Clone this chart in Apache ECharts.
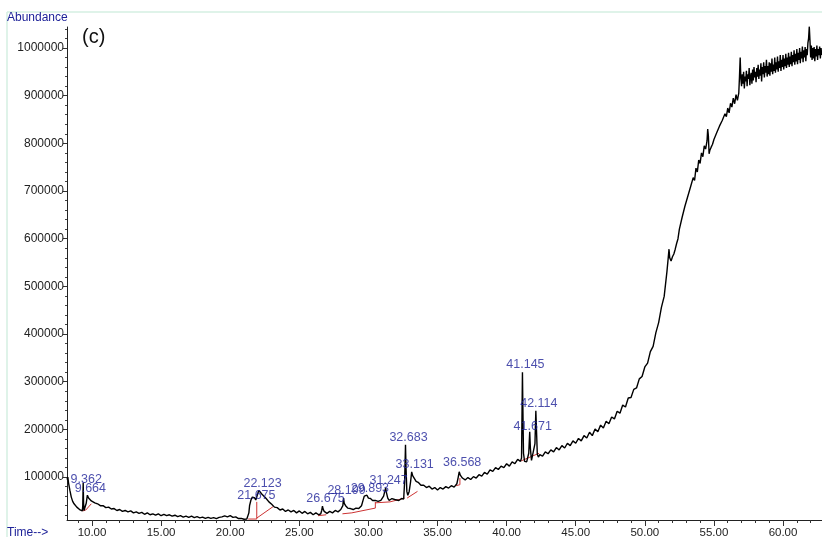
<!DOCTYPE html>
<html>
<head>
<meta charset="utf-8">
<script src="https://cdn.jsdelivr.net/npm/echarts@6/dist/echarts.min.js"></script>
<style>
  html, body { margin: 0; padding: 0; background: #fff; }
  #canvasC { width: 822px; height: 537px; }
</style>
</head>
<body>
<div id="canvasC"></div>
<script>
// chromatogram (c): [time (min), abundance / 1000]
var trace = [
  [8.19,95],[8.25,100],[8.3,88],[8.4,72],[8.5,58],[8.6,49],[8.7,44],[8.8,40],[8.9,37],[9.0,34],
  [9.1,32],[9.2,30],[9.3,29],[9.33,40],[9.362,88],[9.39,45],[9.42,30],[9.5,29],[9.58,45],[9.664,62],
  [9.75,56],[9.85,53],[9.95,50],
  [10.0,50],[10.2,46],[10.4,44],[10.6,40],[10.8,40],[11.0,36],[11.2,37],[11.4,33],[11.6,34],[11.8,30],
  [12.0,32],[12.2,28],[12.4,30],[12.6,27],[12.8,29],[13.0,25],[13.2,27],[13.4,24],[13.6,26],[13.8,22],
  [14.0,25],[14.2,21],[14.4,23],[14.6,20],[14.8,23],[15.0,19],[15.2,22],[15.4,19],[15.6,21],[15.8,18],
  [16.0,20],[16.2,17],[16.4,19],[16.6,16],[16.8,18],[17.0,15.5],[17.2,18],[17.4,15],[17.6,17],[17.8,14.5],
  [18.0,16],[18.2,13.5],[18.4,15.5],[18.6,13.5],[18.8,15],[19.0,13],[19.2,15.5],[19.4,16.5],[19.6,18.5],[19.8,16.5],
  [20.0,19],[20.2,15.5],[20.4,16.5],[20.6,13],[20.8,13.5],[21.0,11.5],[21.2,12],[21.3,11.5],
  [21.35,25],[21.4,40],[21.5,52],[21.6,58],[21.675,60],[21.75,57],[21.85,52],[21.92,54],[22.0,66],[22.07,72],
  [22.123,74],[22.2,70],[22.3,64],[22.4,60],[22.6,55],[22.8,48],[23.0,43],[23.2,37],[23.4,36],[23.6,31],
  [23.8,33],[24.0,28],[24.2,31],[24.4,27],[24.6,30],[24.8,25],[25.0,29],[25.2,24],[25.4,28],[25.6,23],
  [25.8,26],[26.0,21],[26.2,25],[26.4,21],[26.55,23],[26.62,30],[26.675,39],[26.72,33],[26.8,28],[26.9,27],
  [27.0,24],[27.2,28],[27.4,25],[27.6,30],[27.8,27],[28.0,32],[28.1,29],[28.15,40],[28.199,56],[28.25,45],
  [28.35,40],[28.5,35],[28.7,34],[28.9,32],[29.1,35],[29.3,34],[29.5,40],[29.6,50],[29.7,60],[29.8,60],
  [29.893,62],[30.0,56],[30.15,55],[30.3,51],[30.5,51],[30.7,49],[30.9,51],[31.0,52],[31.1,60],[31.2,72],
  [31.247,77],[31.3,68],[31.4,56],[31.5,51],[31.6,52],[31.7,55],[31.8,58],[31.9,53],[32.0,52],[32.2,51],
  [32.4,55],[32.55,54],[32.62,90],[32.683,168],[32.72,120],[32.78,70],[32.85,62],[32.95,70],[33.05,90],[33.131,111],
  [33.2,103],[33.3,99],[33.45,91],[33.6,89],[33.8,83],[34.0,83],[34.2,78],[34.4,81],[34.6,75],[34.8,78],
  [35.0,73],[35.2,78],[35.4,75],[35.6,80],[35.8,77],[36.0,82],[36.2,79],[36.4,86],[36.5,100],[36.568,111],
  [36.65,104],[36.8,98],[37.0,94],[37.2,99],[37.4,95],[37.6,101],[37.8,98],[38.0,105],[38.2,102],[38.4,110],
  [38.6,106],[38.8,115],[39.0,112],[39.2,120],[39.4,116],[39.6,123],[39.8,120],[40.0,128],[40.2,123],[40.4,132],
  [40.6,128],[40.8,137],[41.0,133],[41.08,140],[41.12,250],[41.145,320],[41.17,260],[41.22,150],[41.3,133],[41.45,132],
  [41.6,150],[41.671,195],[41.72,160],[41.8,135],[41.9,133],[42.05,170],[42.114,239],[42.16,200],[42.22,148],[42.3,142],
  [42.4,147],[42.6,144],[42.8,153],[43.0,149],[43.2,157],[43.4,153],[43.6,162],[43.8,157],[44.0,166],[44.2,161],
  [44.4,171],[44.6,166],[44.8,176],[45.0,171],[45.2,181],[45.4,176],[45.6,187],[45.8,182],[46.0,194],[46.2,187],
  [46.4,201],[46.6,195],[46.8,209],[47.0,203],[47.2,217],[47.4,212],[47.6,226],[47.8,222],[48.0,238],[48.2,234],
  [48.4,251],[48.6,247],[48.8,266],[49.0,267],[49.2,284],[49.4,287],[49.6,306],[49.8,311],[50.0,331],[50.2,339],
  [50.4,363],[50.6,374],[50.8,403],[51.0,424],[51.2,456],[51.4,479],[51.6,531],[51.7,562],[51.75,578],[51.8,560],
  [51.9,553],[52.0,562],[52.1,568],[52.2,578],[52.3,590],[52.4,600],[52.5,620],[52.6,622],[52.7,645],[52.8,648],
  [52.9,668],[53.0,668],[53.1,688],[53.2,688],[53.3,708],[53.4,706],[53.5,728],[53.6,722],[53.7,748],[53.8,740],
  [53.9,765],[54.0,758],[54.1,780],[54.2,772],[54.3,795],[54.4,788],[54.5,805],[54.55,830],[54.6,815],[54.65,778],
  [54.7,785],[54.8,792],[54.9,798],[55.0,808],[55.1,810],[55.2,822],[55.3,824],[55.4,836],[55.5,836],[55.6,848],
  [55.7,846],[55.8,862],[55.9,856],[56.0,874],[56.1,864],[56.2,884],[56.3,876],[56.4,895],[56.5,883],[56.6,902],
  [56.7,890],[56.8,906],[56.85,940],[56.9,980],[56.95,935],
  [57.0,920],[57.05,945],[57.1,925],[57.15,950],[57.2,915],[57.25,940],[57.3,930],[57.35,952],[57.4,920],[57.45,945],
  [57.5,935],[57.55,958],[57.6,922],[57.65,940],[57.7,948],[57.75,925],[57.8,955],[57.85,932],[57.9,960],[57.95,938],
  [58.0,950],[58.05,928],[58.1,958],[58.15,940],[58.2,965],[58.25,935],[58.3,955],[58.35,942],[58.4,968],[58.45,930],
  [58.5,960],[58.55,945],[58.6,970],[58.65,938],[58.7,962],[58.75,948],[58.8,975],[58.85,940],[58.9,962],[58.95,945],
  [59.0,970],[59.05,942],[59.1,968],[59.15,950],[59.2,978],[59.25,945],[59.3,965],[59.35,952],[59.4,980],[59.45,948],
  [59.5,970],[59.55,955],[59.6,982],[59.65,950],[59.7,972],[59.75,958],[59.8,985],[59.85,952],[59.9,975],[59.95,960],
  [60.0,985],[60.05,955],[60.1,978],[60.15,962],[60.2,988],[60.25,958],[60.3,980],[60.35,965],[60.4,990],[60.45,960],
  [60.5,982],[60.55,966],[60.6,992],[60.65,962],[60.7,985],[60.75,970],[60.8,995],[60.85,965],[60.9,988],[60.95,972],
  [61.0,998],[61.05,966],[61.1,990],[61.15,975],[61.2,1000],[61.25,968],[61.3,992],[61.35,978],[61.4,1003],[61.45,970],
  [61.5,995],[61.55,980],[61.6,1002],[61.65,972],[61.7,998],[61.75,985],[61.8,1010],[61.85,1020],[61.9,1045],[61.95,1015],
  [62.0,980],[62.05,1005],[62.1,975],[62.15,1000],[62.2,978],[62.25,1002],[62.3,972],[62.35,998],[62.4,982],[62.45,1005],
  [62.5,975],[62.55,998],[62.6,985],[62.65,1003],[62.7,978],[62.75,1000],[62.8,985]
];

// peak names, and where the name text sits (abundance / 1000 at label centre)
var peakNames = ['9.362','9.664','21.675','22.123','26.675','28.199','29.893','31.247','32.683','33.131','36.568','41.145','41.671','42.114'];
var peakLabelHeights = [94, 77, 62, 87, 56, 71, 77, 92, 182, 127, 130, 337, 207, 255];

// integration baselines: [t1, v1, t2, v2] (abundance / 1000)
var baselineSegments = [
  [9.33,29,9.55,31],[9.55,31,9.95,44],
  [21.3,12,21.92,12],[21.92,12,21.92,48],[21.92,14,23.1,38],
  [26.35,19,26.95,21],
  [28.12,23,28.8,25],
  [28.8,25,30.5,35],[30.5,35,30.5,48],
  [30.5,46,31.56,48],
  [31.56,48,32.62,56],
  [32.8,56,33.55,70],
  [36.35,82,36.62,84],[36.62,84,36.62,98],
  [41.05,134,42.35,150]
];

var xTickLabels = [10, 15, 20, 25, 30, 35, 40, 45, 50, 55, 60];
var xMinorTicks = [9,10,11,12,13,14,15,16,17,18,19,20,21,22,23,24,25,26,27,28,29,30,31,32,33,34,35,36,37,38,39,40,41,42,43,44,45,46,47,48,49,50,51,52,53,54,55,56,57,58,59,60,61,62];
var yTickLabels = [100000, 200000, 300000, 400000, 500000, 600000, 700000, 800000, 900000, 1000000];
var yMinorTicks = [20000,40000,60000,80000,100000,120000,140000,160000,180000,200000,220000,240000,260000,280000,300000,320000,340000,360000,380000,400000,420000,440000,460000,480000,500000,520000,540000,560000,580000,600000,620000,640000,660000,680000,700000,720000,740000,760000,780000,800000,820000,840000,860000,880000,900000,920000,940000,960000,980000,1000000,1020000,1040000];

var navy = '#1f2399';
var font = 'Liberation Sans, Arial, sans-serif';

var lineData = trace.map(function(p){ return [p[0], p[1] * 1000]; });
var labelData = peakNames.map(function(n, i){ return [parseFloat(n), peakLabelHeights[i] * 1000, n]; });
var baseData = [];
baselineSegments.forEach(function(s){
  baseData.push([s[0], s[1] * 1000]);
  baseData.push([s[2], s[3] * 1000]);
  baseData.push([null, null]);
});

var xMin = 8.19, xMax = 62.82, yMin = 10000, yMax = 1044000;

var chromOption = {
  animation: false,
  backgroundColor: '#fff',
  grid: { left: 67, right: 0, top: 27, bottom: 17, containLabel: false, outerBoundsMode: 'none' },
  xAxis: [{
    type: 'value', min: xMin, max: xMax,
    axisLine: { onZero: false, lineStyle: { color: '#222', width: 1 } },
    splitLine: { show: false },
    axisTick: { customValues: xMinorTicks, length: 3, lineStyle: { color: '#333' } },
    axisLabel: {
      customValues: xTickLabels, margin: 7, color: '#222', fontSize: 11.5, fontFamily: font,
      formatter: function(v){ return v.toFixed(2); }
    }
  }, {
    type: 'value', min: xMin, max: xMax, position: 'bottom',
    axisLine: { show: false, onZero: false },
    splitLine: { show: false },
    axisTick: { customValues: xTickLabels, length: 6, lineStyle: { color: '#333' } },
    axisLabel: { show: false }
  }],
  yAxis: [{
    type: 'value', min: yMin, max: yMax,
    axisLine: { show: true, lineStyle: { color: '#222', width: 1 } },
    splitLine: { show: false },
    axisTick: { show: true, customValues: yMinorTicks, length: 2, lineStyle: { color: '#444' } },
    axisLabel: {
      customValues: yTickLabels, margin: 3, color: '#222', fontSize: 12, fontFamily: font,
      formatter: function(v){ return String(v); }
    }
  }, {
    type: 'value', min: yMin, max: yMax, position: 'left',
    axisLine: { show: false },
    splitLine: { show: false },
    axisTick: { show: true, customValues: yTickLabels, length: 4, lineStyle: { color: '#333' } },
    axisLabel: { show: false }
  }],
  series: [{
    name: 'trace', type: 'line', data: lineData, showSymbol: false, symbol: 'none',
    lineStyle: { color: '#000', width: 1.4 }, z: 3
  }, {
    name: 'baseline', type: 'line', data: baseData, showSymbol: false, symbol: 'none', connectNulls: false,
    lineStyle: { color: '#cc3333', width: 1 }, z: 2
  }, {
    name: 'peaks', type: 'scatter', data: labelData, symbolSize: 0, z: 4,
    label: {
      show: true, position: 'inside', offset: [3, 0], color: navy, fontSize: 12.5, fontFamily: font,
      formatter: function(p){ return p.value[2]; }
    }
  }],
  graphic: [
    { type: 'line', shape: { x1: 7, y1: 12, x2: 822, y2: 12 }, style: { stroke: '#d4efe2', lineWidth: 1.5 } },
    { type: 'line', shape: { x1: 7, y1: 12, x2: 7, y2: 537 }, style: { stroke: '#d4efe2', lineWidth: 1.5 } },
    { type: 'text', left: 7, top: 12, style: { text: 'Abundance', fill: navy, font: '12px ' + font } },
    { type: 'text', left: 7, top: 527, style: { text: 'Time-->', fill: navy, font: '12px ' + font } },
    { type: 'text', left: 82, top: 27, style: { text: '(c)', fill: '#111', font: '20px ' + font } }
  ]
};

var myCharts = echarts.init(document.getElementById('canvasC'));
myCharts.setOption(chromOption);
</script>
</body>
</html>
